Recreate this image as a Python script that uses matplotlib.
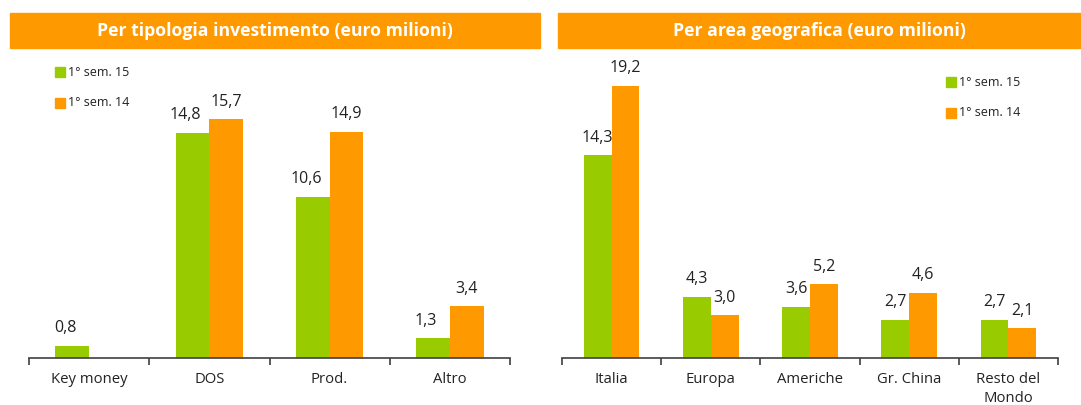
import matplotlib
matplotlib.use("Agg")
import matplotlib.pyplot as plt
import numpy as np
from matplotlib.patches import Rectangle

plt.rcParams['font.family'] = ['Open Sans', 'DejaVu Sans']

left_title = "Per tipologia investimento (euro milioni)"
left_cats = ["Key money", "DOS", "Prod.", "Altro"]
left_15 = [0.8, 14.8, 10.6, 1.3]
left_14 = [None, 15.7, 14.9, 3.4]

right_title = "Per area geografica (euro milioni)"
right_cats = ["Italia", "Europa", "Americhe", "Gr. China", "Resto del\nMondo"]
right_15 = [14.3, 4.3, 3.6, 2.7, 2.7]
right_14 = [19.2, 3.0, 5.2, 4.6, 2.1]

series_labels = ["1° sem. 15", "1° sem. 14"]
GREEN = "#99CC00"
ORANGE = "#FF9900"

W, H = 1081, 405
fig = plt.figure(figsize=(W / 100, H / 100), dpi=100)

def px_axes(x0, x1, ytop, ybot):
    return fig.add_axes([x0 / W, (H - ybot) / H, (x1 - x0) / W, (ybot - ytop) / H])

def header(x0, x1, text):
    fig.patches.append(Rectangle((x0 / W, (H - 48) / H), (x1 - x0) / W, 35 / H,
                                 transform=fig.transFigure, color=ORANGE, zorder=0))
    fig.text((x0 + x1) / 2 / W, (H - 31) / H, text, ha='center', va='center',
             color='white', fontsize=12.7, fontweight='bold')

def panel(ax, cats, s15, s14, ymax, l15_dx):
    n = len(cats)
    x = np.arange(n)
    bw = 0.28
    v15 = [np.nan if v is None else v for v in s15]
    v14 = [np.nan if v is None else v for v in s14]
    ax.bar(x - bw / 2, v15, bw, color=GREEN, label=series_labels[0])
    ax.bar(x + bw / 2, v14, bw, color=ORANGE, label=series_labels[1])
    for xi, v in zip(x, s15):
        if v is not None:
            ax.annotate(f"{v:.1f}".replace('.', ','), (xi - bw / 2, v), xytext=(l15_dx, 7),
                        textcoords='offset points', ha='center', va='bottom', fontsize=11.5, color='#222222')
    for xi, v in zip(x, s14):
        if v is not None:
            ax.annotate(f"{v:.1f}".replace('.', ','), (xi + bw / 2, v), xytext=(0, 7),
                        textcoords='offset points', ha='center', va='bottom', fontsize=11.5, color='#222222')
    ax.set_xlim(-0.5, n - 0.5)
    ax.set_ylim(0, ymax)
    for s in ['top', 'right', 'left']:
        ax.spines[s].set_visible(False)
    ax.spines['bottom'].set_color('#404040')
    ax.spines['bottom'].set_linewidth(1.2)
    ax.set_yticks([])
    ax.set_xticks(np.arange(-0.5, n, 1.0), minor=False)
    ax.set_xticklabels([])
    ax.tick_params(axis='x', which='major', direction='out', length=5, color='#404040', width=1.2)
    ax.set_xticks(x, minor=True)
    ax.set_xticklabels(cats, minor=True, fontsize=10.7, color='#222222', linespacing=1.35, va='top')
    ax.tick_params(axis='x', which='minor', length=0, pad=10)

axL = px_axes(29, 510, 60, 358)
panel(axL, left_cats, left_15, left_14, (358 - 60) / 15.2, -5)
axR = px_axes(562, 1058, 60, 358)
panel(axR, right_cats, right_15, right_14, (358 - 60) / 14.17, 0)

header(10, 540, left_title)
header(558, 1081, right_title)

def legend(x, y1, y2):
    for yy, c, lab in [(y1, GREEN, series_labels[0]), (y2, ORANGE, series_labels[1])]:
        fig.patches.append(Rectangle(((x) / W, (H - yy - 5) / H), 10 / W, 10 / H,
                                     transform=fig.transFigure, color=c))
        fig.text((x + 13) / W, (H - yy) / H, lab, ha='left', va='center', fontsize=9, color='#222222')

legend(55, 72, 103)
legend(946, 82, 113)

fig.savefig("out.png", dpi=100)
